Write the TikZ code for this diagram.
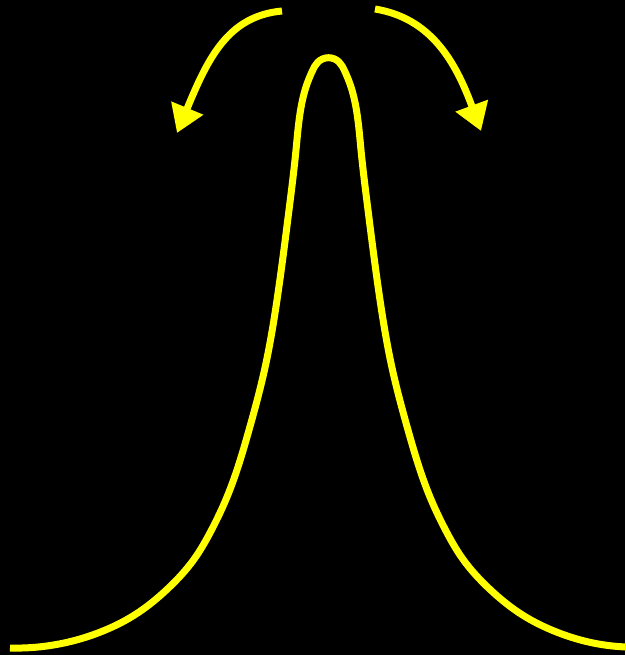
\documentclass[tikz,border=0pt]{standalone}
\usetikzlibrary{arrows.meta,hobby}
\definecolor{curveyellow}{RGB}{255,255,0}
\begin{document}
\begin{tikzpicture}[x=1pt,y=-1pt,
  curveline/.style={draw=curveyellow,line width=7pt},
  bentarrow/.style={curveline,-{Triangle[length=27pt,width=33pt]}}]
\fill[black] (0,0) rectangle (625,655);
\useasboundingbox (0,0) rectangle (625,655);
% peak
\draw[curveline,use Hobby shortcut]
 (10,648) .. (68.5,642) .. (100.5,632) .. (134.5,615) .. (168.5,588) .. (193.5,560)
 .. (211.5,530) .. (227,497) .. (249,430) .. (264.5,370) .. (277,300)
 .. (289,210) .. (296,150) .. (302.5,100) .. (307,84) .. (312,71.7) .. (318,62)
 .. (328.5,57.7)
 .. (339,62) .. (345,71.7) .. (350,84) .. (354.5,100) .. (361,150) .. (368,210)
 .. (380,300) .. (392.5,370) .. (408,430) .. (430,497) .. (445.5,530)
 .. (463.5,560) .. (488.5,588) .. (522.5,615) .. (556.5,632) .. (588.5,642) .. (627,647);
% arrows
\coordinate (ls) at (282,11);
\coordinate (lt) at (177,133);
\coordinate (rs) at (375,9);
\coordinate (rt) at (481,131);
\draw[bentarrow] (ls) .. controls (228,16) and (208,58) .. (lt);
\draw[bentarrow] (rs) .. controls (430,18) and (455,60) .. (rt);
\end{tikzpicture}
\end{document}
